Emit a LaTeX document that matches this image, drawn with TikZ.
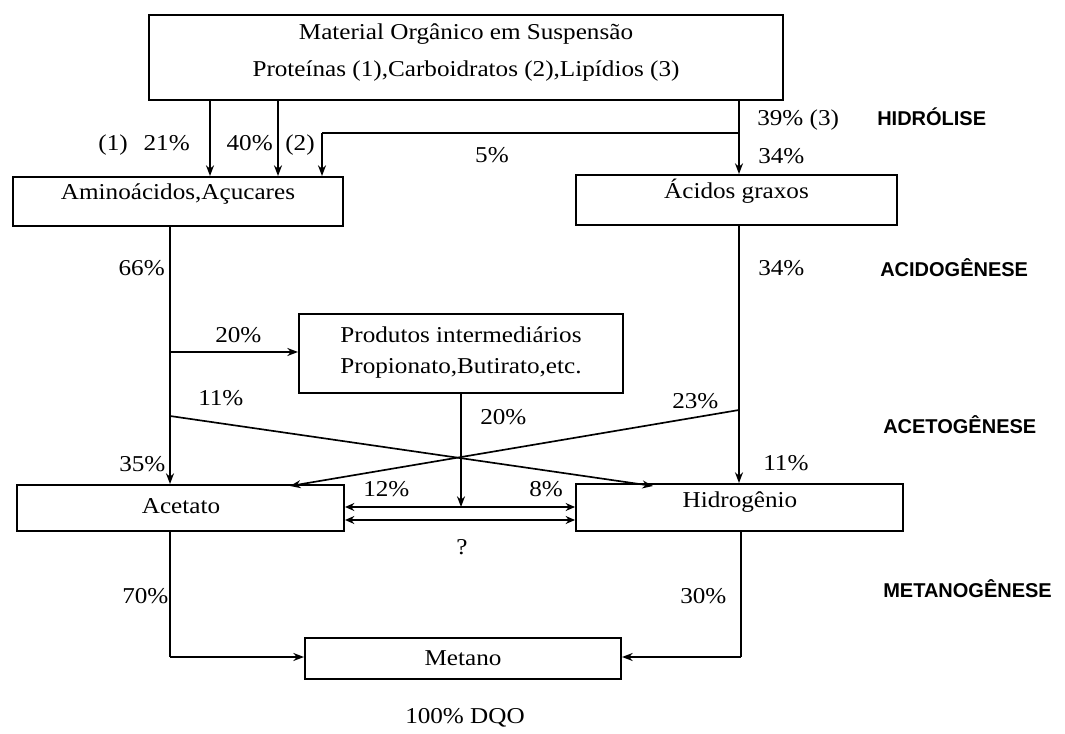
\documentclass[tikz,border=0pt]{standalone}
\usepackage{fontspec}
\setmainfont{Liberation Serif}[FakeStretch=1.11]
\newfontfamily\labfont{Liberation Sans}
\usetikzlibrary{arrows.meta}
\begin{document}
\begin{tikzpicture}[x=0.75pt,y=-0.75pt,
  box/.style={draw, line width=1.5pt, inner sep=0pt},
  arr/.style={line width=1.25pt, -{Stealth[length=8pt,width=6pt]}},
  darr/.style={line width=1.25pt, {Stealth[length=7pt,width=6pt]}-{Stealth[length=7pt,width=6pt]}},
  ln/.style={line width=1.25pt},
  txt/.style={font=\fontsize{17}{20}\selectfont, inner sep=0pt, anchor=base},
  pw/.style={font=\fontsize{17}{20}\selectfont, inner sep=0pt, anchor=base west},
  stage/.style={font=\labfont\bfseries\fontsize{15}{18}\selectfont, inner sep=0pt, anchor=base west}]
\useasboundingbox (0,0) rectangle (1065,734);

% boxes
\node[box, minimum width={634*0.75pt}, minimum height={85*0.75pt}] (top) at (466,57.5) {};
\node[box, minimum width={330*0.75pt}, minimum height={49*0.75pt}] (amino) at (178,201.5) {};
\node[box, minimum width={321*0.75pt}, minimum height={50*0.75pt}] (acidos) at (736.5,200) {};
\node[box, minimum width={324*0.75pt}, minimum height={79*0.75pt}] (prod) at (461,353.5) {};
\node[box, minimum width={327*0.75pt}, minimum height={46*0.75pt}] (acet) at (180.5,508) {};
\node[box, minimum width={327*0.75pt}, minimum height={47*0.75pt}] (hidro) at (739.5,507.5) {};
\node[box, minimum width={316*0.75pt}, minimum height={41*0.75pt}] (met) at (463,658.5) {};

% box texts
\node[txt] (topa) at (466,40) {Material Orgânico em Suspensão};
\node[txt] (topb) at (466,77) {Proteínas (1),Carboidratos (2),Lipídios (3)};
\node[txt] (aminot) at (178,200) {Aminoácidos,Açucares};
\node[txt] (acidost) at (736.5,199) {Ácidos graxos};
\node[txt] (proda) at (461,343) {Produtos intermediários};
\node[txt] (prodb) at (461,374) {Propionato,Butirato,etc.};
\node[txt] (acett) at (181,513) {Acetato};
\node[txt] (hidrot) at (740,508) {Hidrogênio};
\node[txt] (mett) at (463,665) {Metano};

% junction coordinates
\coordinate (j5) at (739,133);
\coordinate (j5b) at (322,133);
\coordinate (jp) at (170,352);
\coordinate (jl) at (170,416);
\coordinate (jr) at (739,410);
\coordinate (tl) at (653,486);
\coordinate (tr) at (290,486);
\coordinate (ml) at (170,657);
\coordinate (mr) at (741,657);

% hydrolysis
\draw[arr] (210,0 |- top.south) -- (210,0 |- amino.north);
\draw[arr] (278,0 |- top.south) -- (278,0 |- amino.north);
\draw[arr] (739,0 |- top.south) -- (739,0 |- acidos.north);
\draw[ln] (j5) -- (j5b);
\draw[arr] (j5b) -- (322,0 |- amino.north);

% acidogenesis
\draw[arr] (170,0 |- amino.south) -- (170,0 |- acet.north);
\draw[arr] (jp) -- (jp -| prod.west);
\draw[arr] (739,0 |- acidos.south) -- (739,0 |- hidro.north);

% acetogenesis
\draw[arr] (jl) -- (tl);
\draw[arr] (jr) -- (tr);
\draw[arr] (prod.south) -- (461,507);
\draw[darr] (acet.east |- 0,507) -- (hidro.west |- 0,507);
\draw[darr] (acet.east |- 0,520) -- (hidro.west |- 0,520);

% methanogenesis
\draw[ln] (170,0 |- acet.south) -- (ml);
\draw[arr] (ml) -- (ml -| met.west);
\draw[ln] (741,0 |- hidro.south) -- (mr);
\draw[arr] (mr) -- (mr -| met.east);

% percentage labels
\node[txt, anchor=base east] (l1) at (190,151) {(1)\hspace{0.7em}21\%};
\node[txt, anchor=base east] (l2) at (273,151) {40\%};
\node[txt] (l3) at (300,151) {(2)};
\node[txt] (l4) at (492,163) {5\%};
\node[pw] (l5) at (757,126) {39\% (3)};
\node[pw] (l6) at (758,164) {34\%};
\node[txt, anchor=base east] (l7) at (165,276) {66\%};
\node[pw] (l8) at (758,276) {34\%};
\node[pw] (l9) at (215,343) {20\%};
\node[pw] (l10) at (198,406) {11\%};
\node[pw] (l11) at (672,409) {23\%};
\node[pw] (l12) at (480,425) {20\%};
\node[pw] (l13) at (119,472) {35\%};
\node[pw] (l14) at (763,470) {11\%};
\node[pw] (l15) at (363,497) {12\%};
\node[pw] (l16) at (529,497) {8\%};
\node[txt] (l17) at (462,554) {?};
\node[pw] (l18) at (122,603) {70\%};
\node[pw] (l19) at (680,603) {30\%};
\node[txt] (l20) at (465,723) {100\% DQO};

% stage labels
\node[stage] (s1) at (877,126) {HIDRÓLISE};
\node[stage] (s2) at (880,277) {ACIDOGÊNESE};
\node[stage] (s3) at (883,434) {ACETOGÊNESE};
\node[stage] (s4) at (883,597) {METANOGÊNESE};
\end{tikzpicture}
\end{document}
